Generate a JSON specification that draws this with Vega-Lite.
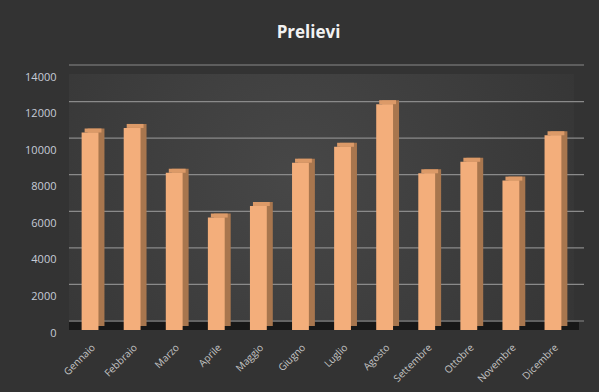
{
  "$schema": "https://vega.github.io/schema/vega-lite/v6.json",
  "width": 505,
  "height": 256,
  "autosize": {"type": "none"},
  "padding": {"left": 69, "top": 74, "right": 25, "bottom": 62},
  "background": "#333333",
  "config": {
    "view": {"stroke": null},
    "axisY": {"labelColor": "#c6ccd8", "labelFont": "Open Sans", "labelFontSize": 11, "labelPadding": 13, "labelOffset": 3, "labelOverlap": false, "labelFlush": false, "ticks": false, "domain": false, "grid": false, "tickCount": 8},
    "axisX": {"labelAngle": -45, "labelColor": "#c4c4c4", "labelFont": "Open Sans", "labelFontSize": 10, "labelPadding": 12, "labelOverlap": false, "ticks": false, "domain": false, "grid": false}
  },
  "title": {
    "text": "Prelievi",
    "color": "#f2f2f2",
    "font": "Open Sans",
    "fontSize": 17,
    "fontWeight": "bold",
    "anchor": "middle",
    "dx": -13,
    "offset": 22
  },
  "datasets": {
    "prelievi": [
      {"mese": "Gennaio", "valore": 10800},
      {"mese": "Febbraio", "valore": 11050},
      {"mese": "Marzo", "valore": 8600},
      {"mese": "Aprile", "valore": 6150},
      {"mese": "Maggio", "valore": 6780},
      {"mese": "Giugno", "valore": 9150},
      {"mese": "Luglio", "valore": 10020},
      {"mese": "Agosto", "valore": 12350},
      {"mese": "Settembre", "valore": 8570},
      {"mese": "Ottobre", "valore": 9200},
      {"mese": "Novembre", "valore": 8170},
      {"mese": "Dicembre", "valore": 10650}
    ],
    "griglia": [
      {"v": 0}, {"v": 2000}, {"v": 4000}, {"v": 6000},
      {"v": 8000}, {"v": 10000}, {"v": 12000}, {"v": 14000}
    ],
    "vuoto": [{}]
  },
  "data": {"name": "prelievi"},
  "layer": [
    {
      "data": {"name": "vuoto"},
      "mark": {
        "type": "rect",
        "fill": {
          "gradient": "radial",
          "x1": 0.45, "y1": 0.45, "r1": 0,
          "x2": 0.45, "y2": 0.45, "r2": 0.7,
          "stops": [
            {"offset": 0, "color": "#474747"},
            {"offset": 0.5, "color": "#3d3d3d"},
            {"offset": 1, "color": "#333333"}
          ]
        }
      },
      "encoding": {}
    },
    {
      "data": {"name": "griglia"},
      "transform": [{"filter": "datum.v === 0"}],
      "mark": {"type": "rule", "stroke": "#181818", "strokeWidth": 8, "yOffset": -4, "xOffset": 5},
      "encoding": {
        "y": {"field": "v", "type": "quantitative", "scale": {"domain": [0, 14000], "nice": false},
          "axis": {"title": null, "format": "d", "values": [0, 2000, 4000, 6000, 8000, 10000, 12000, 14000]}}
      }
    },
    {
      "data": {"name": "griglia"},
      "mark": {"type": "rule", "stroke": "#8a8a8a", "strokeWidth": 1.2, "yOffset": -9, "xOffset": 10},
      "encoding": {
        "y": {"field": "v", "type": "quantitative",
          "axis": {"title": null, "format": "d", "values": [0, 2000, 4000, 6000, 8000, 10000, 12000, 14000]}}
      }
    },
    {
      "mark": {"type": "bar", "color": "#a8764e", "width": {"band": 0.4}, "xOffset": 6, "yOffset": -4, "y2Offset": -4},
      "encoding": {
        "x": {"field": "mese", "type": "nominal", "sort": null, "scale": {"paddingInner": 0, "paddingOuter": 0}, "axis": {"title": null}},
        "y": {"field": "valore", "type": "quantitative",
          "axis": {"title": null, "format": "d", "values": [0, 2000, 4000, 6000, 8000, 10000, 12000, 14000]}}
      }
    },
    {
      "mark": {"type": "bar", "color": "#dc9a68", "width": {"band": 0.4}, "xOffset": 3, "yOffset": -4},
      "encoding": {
        "x": {"field": "mese", "type": "nominal", "sort": null, "axis": {"title": null}},
        "y": {"field": "valore", "type": "quantitative", "axis": {"title": null, "format": "d", "values": [0, 2000, 4000, 6000, 8000, 10000, 12000, 14000]}},
        "y2": {"field": "valore"}
      }
    },
    {
      "mark": {"type": "bar", "color": "#f3ae7b", "width": {"band": 0.4}},
      "encoding": {
        "x": {"field": "mese", "type": "nominal", "sort": null, "axis": {"title": null}},
        "y": {"field": "valore", "type": "quantitative", "axis": {"title": null, "format": "d", "values": [0, 2000, 4000, 6000, 8000, 10000, 12000, 14000]}}
      }
    }
  ]
}
